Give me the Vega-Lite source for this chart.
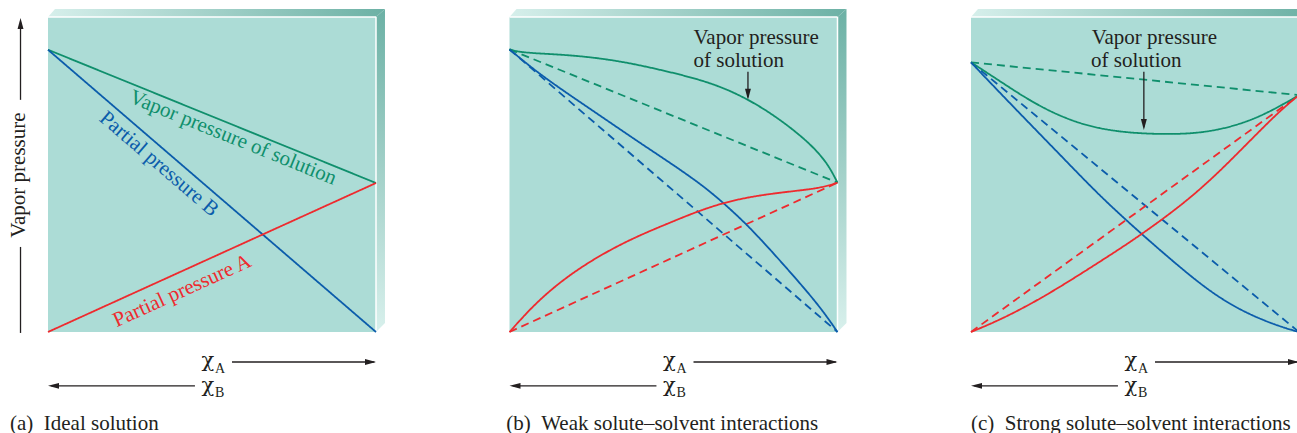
{
  "$schema": "https://vega.github.io/schema/vega-lite/v6.json",
  "autosize": {"type": "none"},
  "padding": {"left": 48, "top": 17, "right": 1249, "bottom": 416},
  "background": "white",
  "bounds": "flush",
  "spacing": 133.5,
  "config": {
    "view": {"fill": "#acdcd6", "stroke": null},
    "font": "Liberation Serif",
    "text": {"font": "Liberation Serif"}
  },
  "datasets": {
    "bevelTop": [
      {"chi": 0, "p": 1, "p2": 1},
      {"chi": 0.0213, "p": 1, "p2": 1.0254},
      {"chi": 1, "p": 1, "p2": 1.0254},
      {"chi": 1.0274, "p": 1.0254, "p2": 1.0254}
    ],
    "bevelRight": [
      {"p": 1.0254, "chi": 1.0274, "chi2": 1.0274},
      {"p": 1, "chi": 1, "chi2": 1.0274},
      {"p": 0.0286, "chi": 1, "chi2": 1.0274},
      {"p": 0, "chi": 1, "chi2": 1}
    ],
    "frame": [
      {"chi": 0, "chi2": 1, "p": 1, "p2": 1},
      {"chi": 1, "chi2": 1, "p": 1, "p2": 0}
    ],
    "curves": [
      {"panel": "a", "series": "total", "kind": "actual", "chi": 0, "p": 0.896},
      {"panel": "a", "series": "total", "kind": "actual", "chi": 1, "p": 0.473},
      {"panel": "a", "series": "B", "kind": "actual", "chi": 0, "p": 0.896},
      {"panel": "a", "series": "B", "kind": "actual", "chi": 1, "p": 0},
      {"panel": "a", "series": "A", "kind": "actual", "chi": 0, "p": 0},
      {"panel": "a", "series": "A", "kind": "actual", "chi": 1, "p": 0.473},

      {"panel": "b", "series": "total", "kind": "raoult", "chi": 0, "p": 0.897},
      {"panel": "b", "series": "total", "kind": "raoult", "chi": 1, "p": 0.474},
      {"panel": "b", "series": "B", "kind": "raoult", "chi": 0, "p": 0.897},
      {"panel": "b", "series": "B", "kind": "raoult", "chi": 1, "p": 0},
      {"panel": "b", "series": "A", "kind": "raoult", "chi": 0, "p": 0},
      {"panel": "b", "series": "A", "kind": "raoult", "chi": 1, "p": 0.474},
      {"panel": "b", "series": "total", "kind": "actual", "chi": 0, "p": 0.897},
      {"panel": "b", "series": "total", "kind": "actual", "chi": 0.036, "p": 0.887},
      {"panel": "b", "series": "total", "kind": "actual", "chi": 0.137, "p": 0.882},
      {"panel": "b", "series": "total", "kind": "actual", "chi": 0.238, "p": 0.874},
      {"panel": "b", "series": "total", "kind": "actual", "chi": 0.341, "p": 0.859},
      {"panel": "b", "series": "total", "kind": "actual", "chi": 0.442, "p": 0.837},
      {"panel": "b", "series": "total", "kind": "actual", "chi": 0.589, "p": 0.8},
      {"panel": "b", "series": "total", "kind": "actual", "chi": 0.691, "p": 0.759},
      {"panel": "b", "series": "total", "kind": "actual", "chi": 0.793, "p": 0.699},
      {"panel": "b", "series": "total", "kind": "actual", "chi": 0.893, "p": 0.62},
      {"panel": "b", "series": "total", "kind": "actual", "chi": 0.945, "p": 0.566},
      {"panel": "b", "series": "total", "kind": "actual", "chi": 0.976, "p": 0.523},
      {"panel": "b", "series": "total", "kind": "actual", "chi": 1, "p": 0.474},
      {"panel": "b", "series": "B", "kind": "actual", "chi": 0, "p": 0.897},
      {"panel": "b", "series": "B", "kind": "actual", "chi": 0.086, "p": 0.823},
      {"panel": "b", "series": "B", "kind": "actual", "chi": 0.188, "p": 0.749},
      {"panel": "b", "series": "B", "kind": "actual", "chi": 0.29, "p": 0.677},
      {"panel": "b", "series": "B", "kind": "actual", "chi": 0.391, "p": 0.605},
      {"panel": "b", "series": "B", "kind": "actual", "chi": 0.503, "p": 0.528},
      {"panel": "b", "series": "B", "kind": "actual", "chi": 0.589, "p": 0.465},
      {"panel": "b", "series": "B", "kind": "actual", "chi": 0.65, "p": 0.412},
      {"panel": "b", "series": "B", "kind": "actual", "chi": 0.722, "p": 0.343},
      {"panel": "b", "series": "B", "kind": "actual", "chi": 0.793, "p": 0.264},
      {"panel": "b", "series": "B", "kind": "actual", "chi": 0.895, "p": 0.144},
      {"panel": "b", "series": "B", "kind": "actual", "chi": 0.955, "p": 0.068},
      {"panel": "b", "series": "B", "kind": "actual", "chi": 1, "p": 0},
      {"panel": "b", "series": "A", "kind": "actual", "chi": 0, "p": 0},
      {"panel": "b", "series": "A", "kind": "actual", "chi": 0.086, "p": 0.1},
      {"panel": "b", "series": "A", "kind": "actual", "chi": 0.188, "p": 0.186},
      {"panel": "b", "series": "A", "kind": "actual", "chi": 0.29, "p": 0.252},
      {"panel": "b", "series": "A", "kind": "actual", "chi": 0.391, "p": 0.305},
      {"panel": "b", "series": "A", "kind": "actual", "chi": 0.503, "p": 0.353},
      {"panel": "b", "series": "A", "kind": "actual", "chi": 0.569, "p": 0.381},
      {"panel": "b", "series": "A", "kind": "actual", "chi": 0.65, "p": 0.41},
      {"panel": "b", "series": "A", "kind": "actual", "chi": 0.742, "p": 0.431},
      {"panel": "b", "series": "A", "kind": "actual", "chi": 0.844, "p": 0.445},
      {"panel": "b", "series": "A", "kind": "actual", "chi": 0.945, "p": 0.456},
      {"panel": "b", "series": "A", "kind": "actual", "chi": 1, "p": 0.474},

      {"panel": "c", "series": "total", "kind": "raoult", "chi": 0, "p": 0.856},
      {"panel": "c", "series": "total", "kind": "raoult", "chi": 1, "p": 0.752},
      {"panel": "c", "series": "B", "kind": "raoult", "chi": 0, "p": 0.856},
      {"panel": "c", "series": "B", "kind": "raoult", "chi": 1, "p": 0},
      {"panel": "c", "series": "A", "kind": "raoult", "chi": 0, "p": 0},
      {"panel": "c", "series": "A", "kind": "raoult", "chi": 1, "p": 0.752},
      {"panel": "c", "series": "total", "kind": "actual", "chi": 0, "p": 0.856},
      {"panel": "c", "series": "total", "kind": "actual", "chi": 0.083, "p": 0.8},
      {"panel": "c", "series": "total", "kind": "actual", "chi": 0.185, "p": 0.73},
      {"panel": "c", "series": "total", "kind": "actual", "chi": 0.287, "p": 0.677},
      {"panel": "c", "series": "total", "kind": "actual", "chi": 0.388, "p": 0.645},
      {"panel": "c", "series": "total", "kind": "actual", "chi": 0.5, "p": 0.63},
      {"panel": "c", "series": "total", "kind": "actual", "chi": 0.637, "p": 0.627},
      {"panel": "c", "series": "total", "kind": "actual", "chi": 0.739, "p": 0.637},
      {"panel": "c", "series": "total", "kind": "actual", "chi": 0.841, "p": 0.666},
      {"panel": "c", "series": "total", "kind": "actual", "chi": 0.922, "p": 0.705},
      {"panel": "c", "series": "total", "kind": "actual", "chi": 1, "p": 0.752},
      {"panel": "c", "series": "B", "kind": "actual", "chi": 0, "p": 0.856},
      {"panel": "c", "series": "B", "kind": "actual", "chi": 0.083, "p": 0.765},
      {"panel": "c", "series": "B", "kind": "actual", "chi": 0.185, "p": 0.655},
      {"panel": "c", "series": "B", "kind": "actual", "chi": 0.287, "p": 0.546},
      {"panel": "c", "series": "B", "kind": "actual", "chi": 0.388, "p": 0.437},
      {"panel": "c", "series": "B", "kind": "actual", "chi": 0.5, "p": 0.329},
      {"panel": "c", "series": "B", "kind": "actual", "chi": 0.637, "p": 0.205},
      {"panel": "c", "series": "B", "kind": "actual", "chi": 0.739, "p": 0.12},
      {"panel": "c", "series": "B", "kind": "actual", "chi": 0.841, "p": 0.058},
      {"panel": "c", "series": "B", "kind": "actual", "chi": 0.942, "p": 0.017},
      {"panel": "c", "series": "B", "kind": "actual", "chi": 1, "p": 0},
      {"panel": "c", "series": "A", "kind": "actual", "chi": 0, "p": 0},
      {"panel": "c", "series": "A", "kind": "actual", "chi": 0.083, "p": 0.036},
      {"panel": "c", "series": "A", "kind": "actual", "chi": 0.185, "p": 0.09},
      {"panel": "c", "series": "A", "kind": "actual", "chi": 0.287, "p": 0.153},
      {"panel": "c", "series": "A", "kind": "actual", "chi": 0.388, "p": 0.22},
      {"panel": "c", "series": "A", "kind": "actual", "chi": 0.5, "p": 0.295},
      {"panel": "c", "series": "A", "kind": "actual", "chi": 0.637, "p": 0.398},
      {"panel": "c", "series": "A", "kind": "actual", "chi": 0.739, "p": 0.49},
      {"panel": "c", "series": "A", "kind": "actual", "chi": 0.841, "p": 0.597},
      {"panel": "c", "series": "A", "kind": "actual", "chi": 0.942, "p": 0.703},
      {"panel": "c", "series": "A", "kind": "actual", "chi": 1, "p": 0.752}
    ],
    "arrows": [
      {"panel": "a", "chi": 0.561, "chi2": 0.995, "p": -0.0952, "p2": -0.0952},
      {"panel": "a", "chi": 0.448, "chi2": 0.01, "p": -0.171, "p2": -0.171},
      {"panel": "a", "chi": -0.0838, "chi2": -0.0838, "p": 0.985, "p2": 0.737},
      {"panel": "a", "chi": -0.0838, "chi2": -0.0838, "p": 0.27, "p2": -0.003},
      {"panel": "b", "chi": 0.561, "chi2": 0.995, "p": -0.0952, "p2": -0.0952},
      {"panel": "b", "chi": 0.448, "chi2": 0.01, "p": -0.171, "p2": -0.171},
      {"panel": "b", "chi": 0.727, "chi2": 0.727, "p": 0.826, "p2": 0.745},
      {"panel": "c", "chi": 0.561, "chi2": 0.995, "p": -0.0952, "p2": -0.0952},
      {"panel": "c", "chi": 0.448, "chi2": 0.01, "p": -0.171, "p2": -0.171},
      {"panel": "c", "chi": 0.527, "chi2": 0.527, "p": 0.826, "p2": 0.65}
    ],
    "heads": [
      {"panel": "a", "dir": "right", "chi": 1.0, "p": -0.0952},
      {"panel": "a", "dir": "left", "chi": 0.0, "p": -0.171},
      {"panel": "a", "dir": "up", "chi": -0.0838, "p": 0.997},
      {"panel": "b", "dir": "right", "chi": 1.0, "p": -0.0952},
      {"panel": "b", "dir": "left", "chi": 0.0, "p": -0.171},
      {"panel": "b", "dir": "down", "chi": 0.727, "p": 0.737},
      {"panel": "c", "dir": "right", "chi": 1.0, "p": -0.0952},
      {"panel": "c", "dir": "left", "chi": 0.0, "p": -0.171},
      {"panel": "c", "dir": "down", "chi": 0.527, "p": 0.641}
    ],
    "texts": [
      {"panel": "a", "role": "caption", "text": "(a)\u00a0\u00a0Ideal solution", "chi": -0.116, "p": -0.311},
      {"panel": "b", "role": "caption", "text": "(b)\u00a0\u00a0Weak solute\u2013solvent interactions", "chi": -0.01, "p": -0.311},
      {"panel": "c", "role": "caption", "text": "(c)\u00a0\u00a0Strong solute\u2013solvent interactions", "chi": 0.0, "p": -0.311},
      {"panel": "a", "role": "chi", "text": "\u03c7", "chi": 0.468, "p": -0.111},
      {"panel": "a", "role": "sub", "text": "A", "chi": 0.509, "p": -0.13},
      {"panel": "a", "role": "chi", "text": "\u03c7", "chi": 0.468, "p": -0.19},
      {"panel": "a", "role": "sub", "text": "B", "chi": 0.509, "p": -0.206},
      {"panel": "b", "role": "chi", "text": "\u03c7", "chi": 0.468, "p": -0.111},
      {"panel": "b", "role": "sub", "text": "A", "chi": 0.509, "p": -0.13},
      {"panel": "b", "role": "chi", "text": "\u03c7", "chi": 0.468, "p": -0.19},
      {"panel": "b", "role": "sub", "text": "B", "chi": 0.509, "p": -0.206},
      {"panel": "c", "role": "chi", "text": "\u03c7", "chi": 0.468, "p": -0.111},
      {"panel": "c", "role": "sub", "text": "A", "chi": 0.509, "p": -0.13},
      {"panel": "c", "role": "chi", "text": "\u03c7", "chi": 0.468, "p": -0.19},
      {"panel": "c", "role": "sub", "text": "B", "chi": 0.509, "p": -0.206},
      {"panel": "a", "role": "ylabel", "text": "Vapor pressure", "chi": -0.0686, "p": 0.498},
      {"panel": "a", "role": "lab_total", "text": "Vapor pressure of solution", "chi": 0.564, "p": 0.616},
      {"panel": "a", "role": "lab_B", "text": "Partial pressure B", "chi": 0.338, "p": 0.533},
      {"panel": "a", "role": "lab_A", "text": "Partial pressure A", "chi": 0.409, "p": 0.13},
      {"panel": "b", "role": "note", "text": "Vapor pressure", "chi": 0.561, "p": 0.913},
      {"panel": "b", "role": "note", "text": "of solution", "chi": 0.561, "p": 0.84},
      {"panel": "c", "role": "note", "text": "Vapor pressure", "chi": 0.368, "p": 0.913},
      {"panel": "c", "role": "note", "text": "of solution", "chi": 0.366, "p": 0.84}
    ]
  },
  "hconcat": [
    {
      "width": 328, "height": 315,
      "encoding": {
        "x": {"field": "chi", "type": "quantitative", "scale": {"domain": [0, 1], "nice": false, "zero": false}, "axis": null},
        "y": {"field": "p", "type": "quantitative", "scale": {"domain": [0, 1], "nice": false, "zero": false}, "axis": null}
      },
      "layer": [
        {"data": {"name": "bevelTop"}, "mark": {"type": "area", "opacity": 1, "color": {"gradient": "linear", "x1": 0, "y1": 0, "x2": 1, "y2": 0, "stops": [{"offset": 0, "color": "#d6efeb"}, {"offset": 1, "color": "#6cb1a5"}]}}, "encoding": {"y2": {"field": "p2"}}},
        {"data": {"name": "bevelRight"}, "mark": {"type": "area", "orient": "horizontal", "opacity": 1, "color": {"gradient": "linear", "x1": 0, "y1": 0, "x2": 0, "y2": 1, "stops": [{"offset": 0, "color": "#6cb1a5"}, {"offset": 1, "color": "#d8f0ec"}]}}, "encoding": {"x2": {"field": "chi2"}}},
        {"data": {"name": "frame"}, "mark": {"type": "rule", "color": "white", "strokeWidth": 1.5}, "encoding": {"x2": {"field": "chi2"}, "y2": {"field": "p2"}}},
        {"data": {"name": "curves"}, "transform": [{"filter": "datum.panel === 'a'"}], "mark": {"type": "line", "strokeWidth": 1.8, "interpolate": "basis"},
          "encoding": {
            "color": {"field": "series", "type": "nominal", "scale": {"domain": ["A", "B", "total"], "range": ["#ee2a2e", "#0b5cab", "#0f8f6c"]}, "legend": null},
            "strokeDash": {"field": "kind", "type": "nominal", "scale": {"domain": ["actual", "raoult"], "range": [[1, 0], [8, 5]]}, "legend": null}
          }},
        {"data": {"name": "arrows"}, "transform": [{"filter": "datum.panel === 'a'"}], "mark": {"type": "rule", "color": "#231f20", "strokeWidth": 1.3}, "encoding": {"x2": {"field": "chi2"}, "y2": {"field": "p2"}}},
        {"data": {"name": "heads"}, "transform": [{"filter": "datum.panel === 'a'"}], "mark": {"type": "point", "filled": true, "opacity": 1, "color": "#231f20", "size": 484, "strokeWidth": 0},
          "encoding": {"shape": {"field": "dir", "type": "nominal", "scale": {"domain": ["up", "down", "left", "right"], "range": ["M0,0L-0.27,1L0.27,1Z", "M0,0L-0.27,-1L0.27,-1Z", "M0,0L1,-0.27L1,0.27Z", "M0,0L-1,-0.27L-1,0.27Z"]}, "legend": null}}},
        {"data": {"name": "texts"}, "transform": [{"filter": "datum.panel === 'a' && (datum.role === 'caption' || datum.role === 'note')"}], "mark": {"type": "text", "fontSize": 21, "align": "left", "baseline": "alphabetic", "color": "#231f20"}, "encoding": {"text": {"field": "text"}}},
        {"data": {"name": "texts"}, "transform": [{"filter": "datum.panel === 'a' && datum.role === 'chi'"}], "mark": {"type": "text", "font": "DejaVu Serif", "fontSize": 21, "align": "left", "baseline": "alphabetic", "color": "#231f20"}, "encoding": {"text": {"field": "text"}}},
        {"data": {"name": "texts"}, "transform": [{"filter": "datum.panel === 'a' && datum.role === 'sub'"}], "mark": {"type": "text", "fontSize": 14, "align": "left", "baseline": "alphabetic", "color": "#231f20"}, "encoding": {"text": {"field": "text"}}},
        {"data": {"name": "texts"}, "transform": [{"filter": "datum.panel === 'a' && datum.role === 'ylabel'"}], "mark": {"type": "text", "fontSize": 21, "angle": 270, "align": "center", "baseline": "alphabetic", "color": "#231f20"}, "encoding": {"text": {"field": "text"}}},
        {"data": {"name": "texts"}, "transform": [{"filter": "datum.panel === 'a' && datum.role === 'lab_total'"}], "mark": {"type": "text", "fontSize": 21, "angle": 22, "align": "center", "baseline": "middle", "color": "#0f8f6c"}, "encoding": {"text": {"field": "text"}}},
        {"data": {"name": "texts"}, "transform": [{"filter": "datum.panel === 'a' && datum.role === 'lab_B'"}], "mark": {"type": "text", "fontSize": 21, "angle": 40.7, "align": "center", "baseline": "middle", "color": "#0b5cab"}, "encoding": {"text": {"field": "text"}}},
        {"data": {"name": "texts"}, "transform": [{"filter": "datum.panel === 'a' && datum.role === 'lab_A'"}], "mark": {"type": "text", "fontSize": 21, "angle": 335.6, "align": "center", "baseline": "middle", "color": "#ee2a2e"}, "encoding": {"text": {"field": "text"}}}
      ]
    },
    {
      "width": 328, "height": 315,
      "encoding": {
        "x": {"field": "chi", "type": "quantitative", "scale": {"domain": [0, 1], "nice": false, "zero": false}, "axis": null},
        "y": {"field": "p", "type": "quantitative", "scale": {"domain": [0, 1], "nice": false, "zero": false}, "axis": null}
      },
      "layer": [
        {"data": {"name": "bevelTop"}, "mark": {"type": "area", "opacity": 1, "color": {"gradient": "linear", "x1": 0, "y1": 0, "x2": 1, "y2": 0, "stops": [{"offset": 0, "color": "#d6efeb"}, {"offset": 1, "color": "#6cb1a5"}]}}, "encoding": {"y2": {"field": "p2"}}},
        {"data": {"name": "bevelRight"}, "mark": {"type": "area", "orient": "horizontal", "opacity": 1, "color": {"gradient": "linear", "x1": 0, "y1": 0, "x2": 0, "y2": 1, "stops": [{"offset": 0, "color": "#6cb1a5"}, {"offset": 1, "color": "#d8f0ec"}]}}, "encoding": {"x2": {"field": "chi2"}}},
        {"data": {"name": "frame"}, "mark": {"type": "rule", "color": "white", "strokeWidth": 1.5}, "encoding": {"x2": {"field": "chi2"}, "y2": {"field": "p2"}}},
        {"data": {"name": "curves"}, "transform": [{"filter": "datum.panel === 'b'"}], "mark": {"type": "line", "strokeWidth": 1.8, "interpolate": "basis"},
          "encoding": {
            "color": {"field": "series", "type": "nominal", "scale": {"domain": ["A", "B", "total"], "range": ["#ee2a2e", "#0b5cab", "#0f8f6c"]}, "legend": null},
            "strokeDash": {"field": "kind", "type": "nominal", "scale": {"domain": ["actual", "raoult"], "range": [[1, 0], [8, 5]]}, "legend": null}
          }},
        {"data": {"name": "arrows"}, "transform": [{"filter": "datum.panel === 'b'"}], "mark": {"type": "rule", "color": "#231f20", "strokeWidth": 1.3}, "encoding": {"x2": {"field": "chi2"}, "y2": {"field": "p2"}}},
        {"data": {"name": "heads"}, "transform": [{"filter": "datum.panel === 'b'"}], "mark": {"type": "point", "filled": true, "opacity": 1, "color": "#231f20", "size": 484, "strokeWidth": 0},
          "encoding": {"shape": {"field": "dir", "type": "nominal", "scale": {"domain": ["up", "down", "left", "right"], "range": ["M0,0L-0.27,1L0.27,1Z", "M0,0L-0.27,-1L0.27,-1Z", "M0,0L1,-0.27L1,0.27Z", "M0,0L-1,-0.27L-1,0.27Z"]}, "legend": null}}},
        {"data": {"name": "texts"}, "transform": [{"filter": "datum.panel === 'b' && (datum.role === 'caption' || datum.role === 'note')"}], "mark": {"type": "text", "fontSize": 21, "align": "left", "baseline": "alphabetic", "color": "#231f20"}, "encoding": {"text": {"field": "text"}}},
        {"data": {"name": "texts"}, "transform": [{"filter": "datum.panel === 'b' && datum.role === 'chi'"}], "mark": {"type": "text", "font": "DejaVu Serif", "fontSize": 21, "align": "left", "baseline": "alphabetic", "color": "#231f20"}, "encoding": {"text": {"field": "text"}}},
        {"data": {"name": "texts"}, "transform": [{"filter": "datum.panel === 'b' && datum.role === 'sub'"}], "mark": {"type": "text", "fontSize": 14, "align": "left", "baseline": "alphabetic", "color": "#231f20"}, "encoding": {"text": {"field": "text"}}}
      ]
    },
    {
      "width": 328, "height": 315,
      "encoding": {
        "x": {"field": "chi", "type": "quantitative", "scale": {"domain": [0, 1], "nice": false, "zero": false}, "axis": null},
        "y": {"field": "p", "type": "quantitative", "scale": {"domain": [0, 1], "nice": false, "zero": false}, "axis": null}
      },
      "layer": [
        {"data": {"name": "bevelTop"}, "mark": {"type": "area", "opacity": 1, "color": {"gradient": "linear", "x1": 0, "y1": 0, "x2": 1, "y2": 0, "stops": [{"offset": 0, "color": "#d6efeb"}, {"offset": 1, "color": "#6cb1a5"}]}}, "encoding": {"y2": {"field": "p2"}}},
        {"data": {"name": "bevelRight"}, "mark": {"type": "area", "orient": "horizontal", "opacity": 1, "color": {"gradient": "linear", "x1": 0, "y1": 0, "x2": 0, "y2": 1, "stops": [{"offset": 0, "color": "#6cb1a5"}, {"offset": 1, "color": "#d8f0ec"}]}}, "encoding": {"x2": {"field": "chi2"}}},
        {"data": {"name": "frame"}, "mark": {"type": "rule", "color": "white", "strokeWidth": 1.5}, "encoding": {"x2": {"field": "chi2"}, "y2": {"field": "p2"}}},
        {"data": {"name": "curves"}, "transform": [{"filter": "datum.panel === 'c'"}], "mark": {"type": "line", "strokeWidth": 1.8, "interpolate": "basis"},
          "encoding": {
            "color": {"field": "series", "type": "nominal", "scale": {"domain": ["A", "B", "total"], "range": ["#ee2a2e", "#0b5cab", "#0f8f6c"]}, "legend": null},
            "strokeDash": {"field": "kind", "type": "nominal", "scale": {"domain": ["actual", "raoult"], "range": [[1, 0], [8, 5]]}, "legend": null}
          }},
        {"data": {"name": "arrows"}, "transform": [{"filter": "datum.panel === 'c'"}], "mark": {"type": "rule", "color": "#231f20", "strokeWidth": 1.3}, "encoding": {"x2": {"field": "chi2"}, "y2": {"field": "p2"}}},
        {"data": {"name": "heads"}, "transform": [{"filter": "datum.panel === 'c'"}], "mark": {"type": "point", "filled": true, "opacity": 1, "color": "#231f20", "size": 484, "strokeWidth": 0},
          "encoding": {"shape": {"field": "dir", "type": "nominal", "scale": {"domain": ["up", "down", "left", "right"], "range": ["M0,0L-0.27,1L0.27,1Z", "M0,0L-0.27,-1L0.27,-1Z", "M0,0L1,-0.27L1,0.27Z", "M0,0L-1,-0.27L-1,0.27Z"]}, "legend": null}}},
        {"data": {"name": "texts"}, "transform": [{"filter": "datum.panel === 'c' && (datum.role === 'caption' || datum.role === 'note')"}], "mark": {"type": "text", "fontSize": 21, "align": "left", "baseline": "alphabetic", "color": "#231f20"}, "encoding": {"text": {"field": "text"}}},
        {"data": {"name": "texts"}, "transform": [{"filter": "datum.panel === 'c' && datum.role === 'chi'"}], "mark": {"type": "text", "font": "DejaVu Serif", "fontSize": 21, "align": "left", "baseline": "alphabetic", "color": "#231f20"}, "encoding": {"text": {"field": "text"}}},
        {"data": {"name": "texts"}, "transform": [{"filter": "datum.panel === 'c' && datum.role === 'sub'"}], "mark": {"type": "text", "fontSize": 14, "align": "left", "baseline": "alphabetic", "color": "#231f20"}, "encoding": {"text": {"field": "text"}}}
      ]
    }
  ]
}
